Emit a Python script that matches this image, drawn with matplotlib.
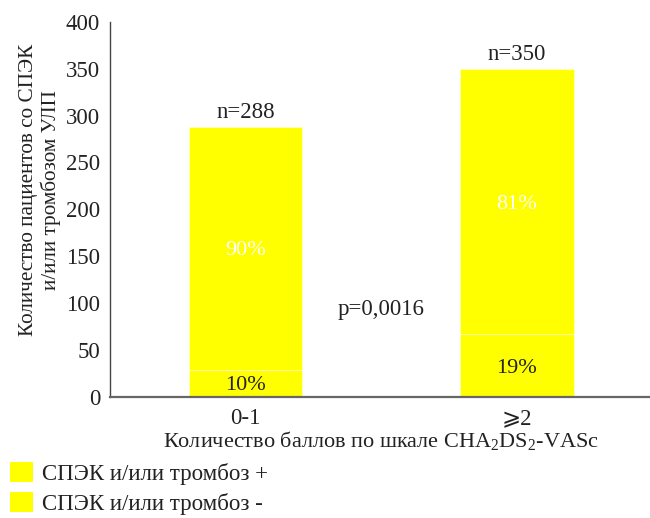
import matplotlib
matplotlib.use('Agg')
import matplotlib.pyplot as plt
from matplotlib.patches import Patch

plt.rcParams['font.family'] = ['Liberation Serif', 'DejaVu Serif', 'DejaVu Sans', 'Noto Sans CJK SC']
plt.rcParams['mathtext.fontset'] = 'custom'
plt.rcParams['mathtext.rm'] = 'Liberation Serif'

categories = ['0-1', '⩾2']
totals     = [288, 350]
pct_pos    = [10, 19]
pct_neg    = [90, 81]
p_text     = 'p=0,0016'
p_y        = 93
legend_labels = ['СПЭК и/или тромбоз +', 'СПЭК и/или тромбоз -']

pos_vals = [t * p / 100 for t, p in zip(totals, pct_pos)]
neg_vals = [t - v for t, v in zip(totals, pos_vals)]
x = list(range(len(categories)))

YELLOW = '#FFFF00'
TEXT = '#222222'
FS = 16.5

fig = plt.figure(figsize=(6.5, 5.18), dpi=100)
ax = fig.add_axes([0.169, 0.234, 0.835, 0.724])

ax.bar(x, pos_vals, width=0.418, color=YELLOW, edgecolor='#FFFFC8', linewidth=0.5)
ax.bar(x, neg_vals, width=0.418, bottom=pos_vals, color=YELLOW, edgecolor='#FFFFC8', linewidth=0.5)

for i in x:
    ax.text(i, pos_vals[i] / 2, f'{pct_pos[i]}%', ha='center', va='center_baseline',
            fontsize=16, color=TEXT)
    ax.text(i, pos_vals[i] + neg_vals[i] / 2, f'{pct_neg[i]}%', ha='center',
            va='center_baseline', fontsize=16, color='white')
    ax.text(i, totals[i] + 4, f'n={totals[i]}', ha='center', va='bottom',
            fontsize=FS, color=TEXT)

ax.text(0.5, p_y, p_text, ha='center', va='center', fontsize=FS, color=TEXT)

ax.set_xlim(-0.5, 1.5)
ax.set_ylim(0, 400)
ax.set_yticks(range(0, 401, 50))
ax.set_xticks(x)
ax.set_xticklabels(categories)
ax.tick_params(axis='both', length=0, labelsize=FS, labelcolor=TEXT)
ax.tick_params(axis='y', pad=7)
ax.tick_params(axis='x', pad=8)

for s in ['top', 'right']:
    ax.spines[s].set_visible(False)
ax.spines['left'].set_color('#444444')
ax.spines['left'].set_linewidth(1.0)
ax.spines['bottom'].set_color('#666666')
ax.spines['bottom'].set_linewidth(1.6)

ax.set_xlabel('Количество баллов по шкале CHA$\\mathregular{_2}$DS$\\mathregular{_2}$-VASc',
              fontsize=16, color=TEXT, labelpad=0)
ax.set_ylabel('Количество пациентов со СПЭК\nи/или тромбозом УЛП', fontsize=15.3,
              color=TEXT, linespacing=1.15)
ax.yaxis.set_label_coords(-0.09, 0.552)

handles = [Patch(facecolor=YELLOW, edgecolor='none') for _ in legend_labels]
fig.legend(handles, legend_labels, loc='lower left', bbox_to_anchor=(-0.016, -0.034),
           frameon=False, fontsize=FS, handlelength=1.0, handleheight=1.0,
           handletextpad=0.4, labelspacing=0.3, labelcolor=TEXT)

fig.savefig('out.png', dpi=100)
